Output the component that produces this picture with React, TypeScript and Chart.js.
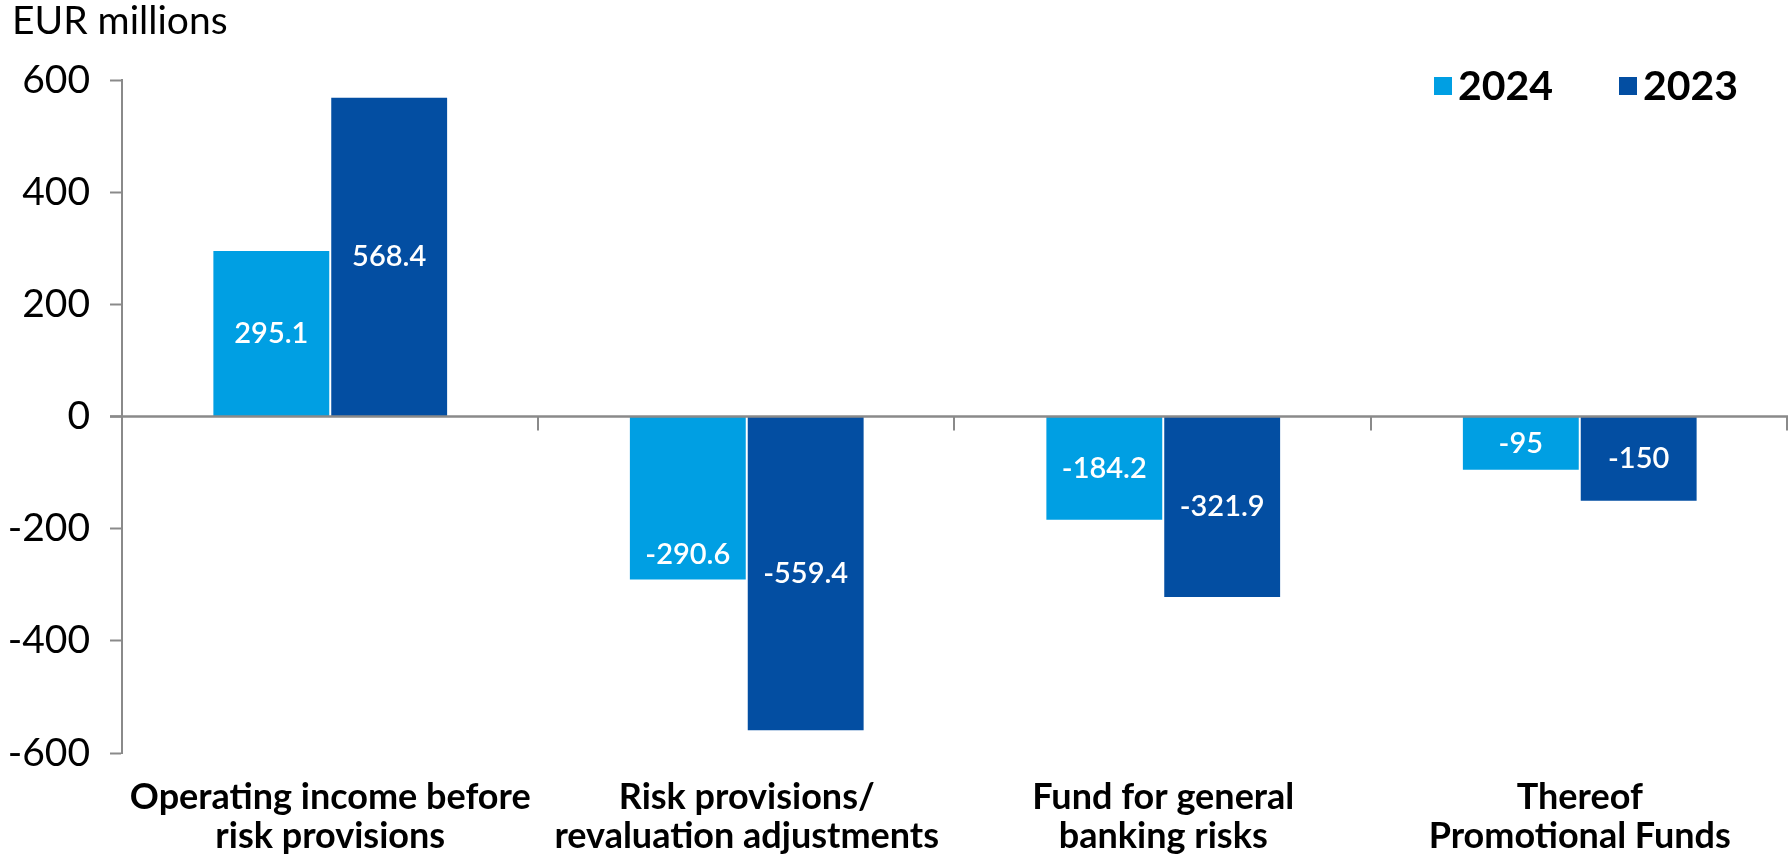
import React, { useEffect, useRef } from "react";
import { Chart, registerables } from "chart.js";

Chart.register(...registerables);

const categories: string[][] = [
  ["Operating income before", "risk provisions"],
  ["Risk provisions/", "revaluation adjustments"],
  ["Fund for general", "banking risks"],
  ["Thereof", "Promotional Funds"],
];
const seriesNames = ["2024", "2023"];
const values2024 = [295.1, -290.6, -184.2, -95];
const values2023 = [568.4, -559.4, -321.9, -150];
const yMin = -600;
const yMax = 600;
const yStep = 200;
const unitLabel = "EUR millions";

const FONT = "Lato, 'Open Sans', sans-serif";
const COLOR_2024 = "#009FE3";
const COLOR_2023 = "#034EA2";
const AXIS_GREY = "#8a8a8a";

const overlayPlugin = {
  id: "overlay",
  afterDatasetsDraw(chart: any) {
    const { ctx, chartArea, scales } = chart;
    const y0 = scales.y.getPixelForValue(0);
    ctx.save();
    // zero line
    ctx.strokeStyle = AXIS_GREY;
    ctx.lineWidth = 2.5;
    ctx.beginPath();
    ctx.moveTo(chartArea.left - 12, y0);
    ctx.lineTo(chartArea.right, y0);
    ctx.stroke();
    // category boundary ticks
    const n = chart.data.labels.length;
    const w = (chartArea.right - chartArea.left) / n;
    ctx.lineWidth = 2;
    for (let i = 1; i <= n; i++) {
      const x = Math.round(chartArea.left + i * w) - 1;
      ctx.beginPath();
      ctx.moveTo(x, y0);
      ctx.lineTo(x, y0 + 14);
      ctx.stroke();
    }
    // data labels
    ctx.fillStyle = "#ffffff";
    ctx.font = `600 29px ${FONT}`;
    ctx.textAlign = "center";
    ctx.textBaseline = "middle";
    chart.data.datasets.forEach((ds: any, di: number) => {
      const meta = chart.getDatasetMeta(di);
      meta.data.forEach((bar: any, i: number) => {
        const v = ds.data[i];
        let ty = (bar.y + bar.base) / 2;
        if (di === 0 && i === 1) ty = bar.y - 25;
        ctx.fillText(String(v), bar.x, ty);
      });
    });
    // unit label
    ctx.fillStyle = "#000";
    ctx.textAlign = "left";
    ctx.textBaseline = "alphabetic";
    ctx.font = `normal 39px ${FONT}`;
    ctx.fillText(unitLabel, 12, 34);
    // legend
    ctx.font = `bold 41px ${FONT}`;
    ctx.textBaseline = "middle";
    const legendX = [1434, 1619];
    chart.data.datasets.forEach((ds: any, di: number) => {
      ctx.fillStyle = ds.backgroundColor;
      ctx.fillRect(legendX[di], 77, 18, 18);
      ctx.fillStyle = "#000";
      ctx.fillText(ds.label, legendX[di] + 24, 87);
    });
    ctx.restore();
  },
};

function App() {
  const ref = useRef<HTMLCanvasElement | null>(null);
  useEffect(() => {
    document.body.style.margin = "0";
    const chart = new Chart(ref.current as HTMLCanvasElement, {
      type: "bar",
      data: {
        labels: categories,
        datasets: [
          { label: seriesNames[0], data: values2024, backgroundColor: COLOR_2024 },
          { label: seriesNames[1], data: values2023, backgroundColor: COLOR_2023 },
        ],
      },
      options: {
        animation: false,
        responsive: false,
        maintainAspectRatio: false,
        layout: { padding: { top: 80, right: 2, left: 0, bottom: 0 } },
        datasets: { bar: { categoryPercentage: 0.566, barPercentage: 0.983 } },
        plugins: { legend: { display: false }, tooltip: { enabled: false }, title: { display: false } },
        scales: {
          x: {
            grid: { display: false, drawTicks: false },
            border: { display: false },
            ticks: {
              padding: 25,
              color: "#000",
              font: { family: FONT, size: 36, weight: "bold", lineHeight: 1.09 },
              maxRotation: 0,
              autoSkip: false,
            },
            afterFit: (s: any) => {
              s.height = 102;
            },
          },
          y: {
            min: yMin,
            max: yMax,
            grid: { drawOnChartArea: false, tickLength: 12, tickColor: AXIS_GREY, tickWidth: 2 },
            border: { display: true, color: AXIS_GREY, width: 2 },
            ticks: {
              stepSize: yStep,
              padding: 20,
              color: "#000",
              font: { family: FONT, size: 39 },
            },
            afterFit: (s: any) => {
              s.width = 122;
            },
          },
        },
      },
      plugins: [overlayPlugin],
    } as any);
    return () => chart.destroy();
  }, []);
  return (
    <div style={{ position: "absolute", left: 0, top: 0, width: 1790, height: 855, background: "#fff" }}>
      <canvas ref={ref} width={1790} height={855} />
    </div>
  );
}

export default App;
